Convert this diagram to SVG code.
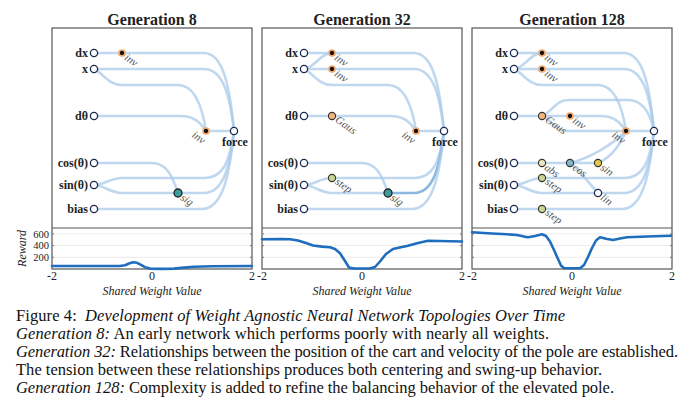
<svg xmlns="http://www.w3.org/2000/svg" width="689" height="406" viewBox="0 0 689 406">
<style>
.bg{fill:#fff}
.box{fill:none;stroke:#555;stroke-width:1.2}
.title{font-family:"Liberation Serif",serif;font-weight:bold;font-size:16px;fill:#222;text-anchor:middle}
.edge{fill:none;stroke:#a9cbe9;stroke-width:2.6;stroke-opacity:0.75;stroke-linecap:round}
.edge.dark{stroke:#7fb0dd;stroke-opacity:0.9}
.io{fill:#fff;stroke:#1b2b4f;stroke-width:1.3}
.inv{fill:#111;stroke:#f3a86e;stroke-width:1.7}
.gaus{fill:#f4b47e;stroke:#333;stroke-width:1.1}
.step{fill:#c9d690;stroke:#333;stroke-width:1.1}
.abs{fill:#e9e8bd;stroke:#333;stroke-width:1.1}
.cos{fill:#82b8cc;stroke:#333;stroke-width:1.1}
.sin{fill:#e3c94a;stroke:#333;stroke-width:1.1}
.lin{fill:#fff;stroke:#1b2b4f;stroke-width:1.3}
.sig{fill:#3f9a9a;stroke:#222;stroke-width:1.3}
.lbl{font-family:"Liberation Serif",serif;font-weight:bold;font-size:12px;fill:#222}
.in{text-anchor:end}
.hl{font-family:"Liberation Serif",serif;font-size:11px;font-style:italic;fill:#555}
.grid{stroke:#ececec;stroke-width:1}
.tick{stroke:#777;stroke-width:1}
.curve{fill:none;stroke:#1f6dbf;stroke-width:2.6;stroke-linejoin:round;stroke-linecap:round}
.ax{font-family:"Liberation Serif",serif;font-size:12px;fill:#222}
.ay{font-family:"Liberation Serif",serif;font-size:10.5px;fill:#222;text-anchor:end}
.axi{font-family:"Liberation Serif",serif;font-size:12px;font-style:italic;fill:#222}
.cap{font-family:"Liberation Serif",serif;font-size:16.5px;fill:#111}
.it{font-style:italic}
</style>
<rect class="bg" x="0" y="0" width="689" height="406"/>

<!-- ============ Generation 8 ============ -->
<g id="gen8" transform="translate(52,0)">
  <text class="title" x="100" y="25">Generation 8</text>
  <rect class="box" x="0" y="28" width="200" height="241"/>
  <line class="box" x1="0" y1="228" x2="200" y2="228"/>
  <g id="gen8-edges">
    <path class="edge" d="M42,53 H70"/>
    <path class="edge" d="M70,53 H152 C172,53 178,90 182,131"/>
    <path class="edge" d="M42,69 H152 C172,69 178,98 182,131"/>
    <path class="edge" d="M42,69 C50,72 56,85 70,85 H126 C142,85 150,105 154,131"/>
    <path class="edge" d="M42,116 H128 C142,116 148,122 154,131"/>
    <path class="edge" d="M154,131 H182"/>
    <path class="edge" d="M42,163 H100 C114,163 120,175 126,193"/>
    <path class="edge" d="M42,185 C52,185 58,178 70,178 H152 C172,178 178,160 182,131"/>
    <path class="edge" d="M42,185 C52,185 58,193 70,193 H126"/>
    <path class="edge" d="M126,193 H152 C172,193 178,165 182,131"/>
    <path class="edge" d="M42,209 H150 C172,209 178,170 182,131"/>
  </g>
  <g id="gen8-dx"><circle class="io" cx="42" cy="53" r="3.6"/><text class="lbl in" x="36" y="57">dx</text></g>
  <g id="gen8-x"><circle class="io" cx="42" cy="69" r="3.6"/><text class="lbl in" x="36" y="73">x</text></g>
  <g id="gen8-dtheta"><circle class="io" cx="42" cy="116" r="3.6"/><text class="lbl in" x="36" y="120">dθ</text></g>
  <g id="gen8-cos"><circle class="io" cx="42" cy="163" r="3.6"/><text class="lbl in" x="36" y="167">cos(θ)</text></g>
  <g id="gen8-sin"><circle class="io" cx="42" cy="185" r="3.6"/><text class="lbl in" x="36" y="189">sin(θ)</text></g>
  <g id="gen8-bias"><circle class="io" cx="42" cy="209" r="3.6"/><text class="lbl in" x="36" y="213">bias</text></g>
  <g id="gen8-force"><circle class="io" cx="182" cy="131" r="3.6"/><text class="lbl" x="183" y="146" text-anchor="middle">force</text></g>
  <g id="gen8-inv1"><circle class="inv" cx="70" cy="53" r="3"/><text class="hl" transform="translate(70,53) rotate(35)" x="5" y="4">inv</text></g>
  <g id="gen8-inv2"><circle class="inv" cx="154" cy="131" r="3"/><text class="hl" transform="translate(154,131) rotate(35)" x="-9" y="13">inv</text></g>
  <g id="gen8-sig"><circle class="sig" cx="126" cy="193" r="4"/><text class="hl" transform="translate(126,193) rotate(35)" x="5" y="4">sig</text></g>
</g>

<!-- ============ Generation 32 ============ -->
<g id="gen32" transform="translate(262,0)">
  <text class="title" x="100" y="25">Generation 32</text>
  <rect class="box" x="0" y="28" width="200" height="241"/>
  <line class="box" x1="0" y1="228" x2="200" y2="228"/>
  <g id="gen32-edges">
    <path class="edge" d="M42,53 H70"/>
    <path class="edge" d="M42,69 C52,69 58,53 70,53"/>
    <path class="edge" d="M42,69 H70"/>
    <path class="edge" d="M70,53 H152 C172,53 178,90 182,131"/>
    <path class="edge" d="M70,69 H152 C172,69 178,98 182,131"/>
    <path class="edge" d="M42,69 C50,72 56,85 70,85 H126 C142,85 150,105 154,131"/>
    <path class="edge" d="M42,116 H70"/>
    <path class="edge" d="M70,116 H128 C142,116 148,122 154,131"/>
    <path class="edge" d="M154,131 H182"/>
    <path class="edge" d="M42,163 H100 C114,163 120,175 126,193"/>
    <path class="edge" d="M42,185 C52,185 58,178 70,178"/>
    <path class="edge" d="M70,178 H152 C172,178 178,160 182,131"/>
    <path class="edge" d="M42,185 C52,185 58,193 70,193 H126"/>
    <path class="edge dark" d="M126,193 H152 C172,193 178,165 182,131"/>
    <path class="edge" d="M42,209 H150 C172,209 178,170 182,131"/>
  </g>
  <g id="gen32-dx"><circle class="io" cx="42" cy="53" r="3.6"/><text class="lbl in" x="36" y="57">dx</text></g>
  <g id="gen32-x"><circle class="io" cx="42" cy="69" r="3.6"/><text class="lbl in" x="36" y="73">x</text></g>
  <g id="gen32-dtheta"><circle class="io" cx="42" cy="116" r="3.6"/><text class="lbl in" x="36" y="120">dθ</text></g>
  <g id="gen32-cos"><circle class="io" cx="42" cy="163" r="3.6"/><text class="lbl in" x="36" y="167">cos(θ)</text></g>
  <g id="gen32-sin"><circle class="io" cx="42" cy="185" r="3.6"/><text class="lbl in" x="36" y="189">sin(θ)</text></g>
  <g id="gen32-bias"><circle class="io" cx="42" cy="209" r="3.6"/><text class="lbl in" x="36" y="213">bias</text></g>
  <g id="gen32-force"><circle class="io" cx="182" cy="131" r="3.6"/><text class="lbl" x="183" y="146" text-anchor="middle">force</text></g>
  <g id="gen32-inva"><circle class="inv" cx="70" cy="53" r="3"/><text class="hl" transform="translate(70,53) rotate(35)" x="5" y="4">inv</text></g>
  <g id="gen32-invb"><circle class="inv" cx="70" cy="69" r="3"/><text class="hl" transform="translate(70,69) rotate(35)" x="5" y="4">inv</text></g>
  <g id="gen32-gaus"><circle class="gaus" cx="70" cy="116" r="3.6"/><text class="hl" transform="translate(70,116) rotate(35)" x="5" y="3">Gaus</text></g>
  <g id="gen32-inv"><circle class="inv" cx="154" cy="131" r="3"/><text class="hl" transform="translate(154,131) rotate(35)" x="-9" y="13">inv</text></g>
  <g id="gen32-step"><circle class="step" cx="70" cy="178" r="3.6"/><text class="hl" transform="translate(70,178) rotate(35)" x="5" y="3">step</text></g>
  <g id="gen32-sig"><circle class="sig" cx="126" cy="193" r="4"/><text class="hl" transform="translate(126,193) rotate(35)" x="5" y="4">sig</text></g>
</g>

<!-- ============ Generation 128 ============ -->
<g id="gen128" transform="translate(472,0)">
  <text class="title" x="100" y="25">Generation 128</text>
  <rect class="box" x="0" y="28" width="200" height="241"/>
  <line class="box" x1="0" y1="228" x2="200" y2="228"/>
  <g id="gen128-edges">
    <path class="edge" d="M42,53 H70"/>
    <path class="edge" d="M42,69 C52,69 58,53 70,53"/>
    <path class="edge" d="M42,69 H70"/>
    <path class="edge" d="M70,53 H152 C172,53 178,90 182,131"/>
    <path class="edge" d="M70,69 H152 C172,69 178,98 182,131"/>
    <path class="edge" d="M42,69 C50,72 56,85 70,85 H126 C142,85 150,105 154,131"/>
    <path class="edge" d="M42,116 H70"/>
    <path class="edge" d="M70,116 C80,112 84,100 96,100 H156 C170,100 178,112 182,131"/>
    <path class="edge" d="M70,116 H98"/>
    <path class="edge" d="M98,116 H128 C142,116 148,122 154,131"/>
    <path class="edge" d="M70,116 C80,120 84,131 96,131 H154"/>
    <path class="edge" d="M154,131 H182"/>
    <path class="edge" d="M42,163 H126"/>
    <path class="edge" d="M98,163 C118,158 140,145 154,131"/>
    <path class="edge" d="M126,163 C138,158 148,145 154,131"/>
    <path class="edge" d="M98,163 C108,170 118,185 126,193"/>
    <path class="edge" d="M42,185 C52,185 58,178 70,178"/>
    <path class="edge" d="M70,178 H152 C172,178 178,160 182,131"/>
    <path class="edge" d="M42,185 C52,185 58,193 70,193 H126"/>
    <path class="edge" d="M126,193 H152 C172,193 178,165 182,131"/>
    <path class="edge" d="M42,209 H70"/>
    <path class="edge" d="M70,209 H150 C172,209 178,170 182,131"/>
  </g>
  <g id="gen128-dx"><circle class="io" cx="42" cy="53" r="3.6"/><text class="lbl in" x="36" y="57">dx</text></g>
  <g id="gen128-x"><circle class="io" cx="42" cy="69" r="3.6"/><text class="lbl in" x="36" y="73">x</text></g>
  <g id="gen128-dtheta"><circle class="io" cx="42" cy="116" r="3.6"/><text class="lbl in" x="36" y="120">dθ</text></g>
  <g id="gen128-cos"><circle class="io" cx="42" cy="163" r="3.6"/><text class="lbl in" x="36" y="167">cos(θ)</text></g>
  <g id="gen128-sin"><circle class="io" cx="42" cy="185" r="3.6"/><text class="lbl in" x="36" y="189">sin(θ)</text></g>
  <g id="gen128-bias"><circle class="io" cx="42" cy="209" r="3.6"/><text class="lbl in" x="36" y="213">bias</text></g>
  <g id="gen128-force"><circle class="io" cx="182" cy="131" r="3.6"/><text class="lbl" x="183" y="146" text-anchor="middle">force</text></g>
  <g id="gen128-inva"><circle class="inv" cx="70" cy="53" r="3"/><text class="hl" transform="translate(70,53) rotate(35)" x="5" y="4">inv</text></g>
  <g id="gen128-invb"><circle class="inv" cx="70" cy="69" r="3"/><text class="hl" transform="translate(70,69) rotate(35)" x="5" y="4">inv</text></g>
  <g id="gen128-gaus"><circle class="gaus" cx="70" cy="116" r="3.6"/><text class="hl" transform="translate(70,116) rotate(35)" x="5" y="3">Gaus</text></g>
  <g id="gen128-invs"><circle class="inv" cx="98" cy="116" r="3"/><text class="hl" transform="translate(98,116) rotate(35)" x="5" y="4">inv</text></g>
  <g id="gen128-inv"><circle class="inv" cx="154" cy="131" r="3"/><text class="hl" transform="translate(154,131) rotate(35)" x="-9" y="13">inv</text></g>
  <g id="gen128-abs"><circle class="abs" cx="70" cy="163" r="3.6"/><text class="hl" transform="translate(70,163) rotate(35)" x="5" y="4">abs</text></g>
  <g id="gen128-cosn"><circle class="cos" cx="98" cy="163" r="3.6"/><text class="hl" transform="translate(98,163) rotate(35)" x="5" y="4">cos</text></g>
  <g id="gen128-sinn"><circle class="sin" cx="126" cy="163" r="3.6"/><text class="hl" transform="translate(126,163) rotate(35)" x="5" y="4">sin</text></g>
  <g id="gen128-step1"><circle class="step" cx="70" cy="178" r="3.6"/><text class="hl" transform="translate(70,178) rotate(35)" x="5" y="3">step</text></g>
  <g id="gen128-lin"><circle class="lin" cx="126" cy="193" r="3.6"/><text class="hl" transform="translate(126,193) rotate(35)" x="5" y="4">lin</text></g>
  <g id="gen128-step2"><circle class="step" cx="70" cy="209" r="3.6"/><text class="hl" transform="translate(70,209) rotate(35)" x="5" y="3">step</text></g>
</g>

<!-- ============ Reward plots ============ -->
<g id="reward-axis">
  <text class="axi" transform="translate(26,248.5) rotate(-90)" text-anchor="middle">Reward</text>
  <text class="ay" x="49" y="237.6">600</text>
  <text class="ay" x="49" y="249.3">400</text>
  <text class="ay" x="49" y="261">200</text>
</g>
<g id="reward8" transform="translate(52,0)">
  <line class="grid" x1="1" y1="233.9" x2="199" y2="233.9"/>
  <line class="grid" x1="1" y1="245.6" x2="199" y2="245.6"/>
  <line class="grid" x1="1" y1="257.3" x2="199" y2="257.3"/>
  <path class="tick" d="M0,233.9h2M0,245.6h2M0,257.3h2M200,233.9h-2M200,245.6h-2M200,257.3h-2"/>
  <polyline class="curve" points="0,266 68,266 73,265.2 77,263.5 81,262.3 85,262.8 89,264.8 93,267.2 98,268.6 110,268.9 122,268.6 132,267.6 142,266.7 160,266.3 200,266"/>
  <text class="ax" x="0" y="280" text-anchor="middle">-2</text>
  <text class="ax" x="100" y="280" text-anchor="middle">0</text>
  <text class="ax" x="200" y="280" text-anchor="middle">2</text>
  <text class="axi" x="100" y="295" text-anchor="middle">Shared Weight Value</text>
</g>
<g id="reward32" transform="translate(262,0)">
  <line class="grid" x1="1" y1="233.9" x2="199" y2="233.9"/>
  <line class="grid" x1="1" y1="245.6" x2="199" y2="245.6"/>
  <line class="grid" x1="1" y1="257.3" x2="199" y2="257.3"/>
  <path class="tick" d="M0,233.9h2M0,245.6h2M0,257.3h2M200,233.9h-2M200,245.6h-2M200,257.3h-2"/>
  <polyline class="curve" points="0,239.3 20,239 28,239.3 36,240.5 44,243 51,245.5 60,246.6 68,247.3 73,249 78,253.3 83,261 87,267.5 92,268.5 108,268.5 113,267 118,261.5 124,254 131,249 140,247 146,245.7 156,243 166,240.8 200,241.5"/>
  <text class="ax" x="0" y="280" text-anchor="middle">-2</text>
  <text class="ax" x="100" y="280" text-anchor="middle">0</text>
  <text class="ax" x="200" y="280" text-anchor="middle">2</text>
  <text class="axi" x="100" y="295" text-anchor="middle">Shared Weight Value</text>
</g>
<g id="reward128" transform="translate(472,0)">
  <line class="grid" x1="1" y1="233.9" x2="199" y2="233.9"/>
  <line class="grid" x1="1" y1="245.6" x2="199" y2="245.6"/>
  <line class="grid" x1="1" y1="257.3" x2="199" y2="257.3"/>
  <path class="tick" d="M0,233.9h2M0,245.6h2M0,257.3h2M200,233.9h-2M200,245.6h-2M200,257.3h-2"/>
  <polyline class="curve" points="0,232.3 20,233.5 35,234.3 45,235 52,236.6 56,237.3 63,236 70,234.3 74,236 78,241.5 82,250 86,259 89,265.5 92,268.3 108,268.3 112,265 116,257 120,248 124,240.5 128,237.3 134,238.7 141,240 148,238.5 155,237.3 175,236.5 199,235.7"/>
  <text class="ax" x="0" y="280" text-anchor="middle">-2</text>
  <text class="ax" x="100" y="280" text-anchor="middle">0</text>
  <text class="ax" x="200" y="280" text-anchor="middle">2</text>
  <text class="axi" x="100" y="295" text-anchor="middle">Shared Weight Value</text>
</g>

<!-- ============ Caption ============ -->
<g id="caption">
  <text class="cap" x="16" y="321" textLength="549" lengthAdjust="spacing">Figure 4: <tspan class="it" dx="4">Development of Weight Agnostic Neural Network Topologies Over Time</tspan></text>
  <text class="cap" x="16" y="339" textLength="533" lengthAdjust="spacing"><tspan class="it">Generation 8:</tspan> An early network which performs poorly with nearly all weights.</text>
  <text class="cap" x="16" y="357" textLength="662" lengthAdjust="spacing"><tspan class="it">Generation 32:</tspan> Relationships between the position of the cart and velocity of the pole are established.</text>
  <text class="cap" x="16" y="375" textLength="586" lengthAdjust="spacing">The tension between these relationships produces both centering and swing-up behavior.</text>
  <text class="cap" x="16" y="393" textLength="598" lengthAdjust="spacing"><tspan class="it">Generation 128:</tspan> Complexity is added to refine the balancing behavior of the elevated pole.</text>
</g>
</svg>
